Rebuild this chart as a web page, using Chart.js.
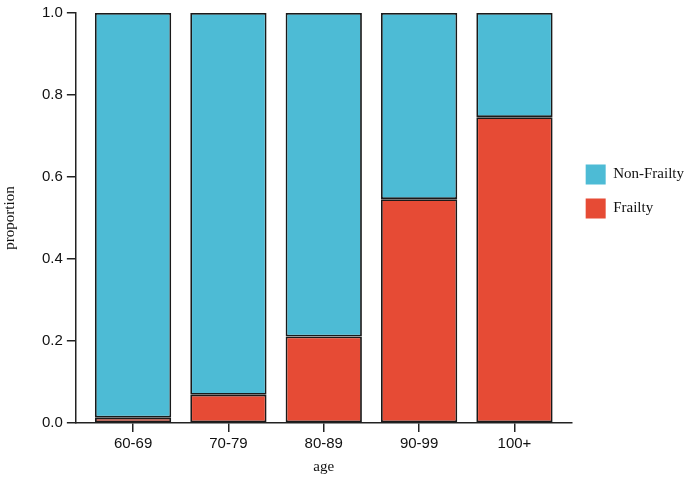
<!DOCTYPE html>
<html>
<head>
<meta charset="utf-8">
<script src="https://cdn.jsdelivr.net/npm/chart.js@4.4.1/dist/chart.umd.min.js"></script>
<style>
  html, body { margin: 0; padding: 0; background: #fff; }
  #wrap { width: 685px; height: 480px; }
</style>
</head>
<body>
<div id="wrap"><canvas id="myChart"></canvas></div>
<script>
const ageGroups = ["60-69", "70-79", "80-89", "90-99", "100+"];
const frailty = [0.013, 0.069, 0.211, 0.546, 0.746];
const nonFrailty = [0.987, 0.931, 0.789, 0.454, 0.254];
const yTicks = [0, 0.2, 0.4, 0.6, 0.8, 1.0];

const serif = "'Liberation Serif', 'Times New Roman', serif";
const sans = "'Liberation Sans', Arial, sans-serif";

function points(values) {
  return values.map((v, i) => ({ x: i + 1, y: v }));
}

const ctx = document.getElementById("myChart");

// stacked bars, Frailty first so it sits at the bottom
let myChart = new Chart(ctx, {
  type: "bar",
  data: {
    datasets: [
      {
        label: "Frailty",
        data: points(frailty),
        backgroundColor: "#E64B35",
        borderColor: "#1a1a1a",
        borderWidth: 1.8,
        borderSkipped: false,
      },
      {
        label: "Non-Frailty",
        data: points(nonFrailty),
        backgroundColor: "#4DBBD5",
        borderColor: "#1a1a1a",
        borderWidth: 1.8,
        borderSkipped: false,
      },
    ],
  },
  options: {
    responsive: true,
    maintainAspectRatio: false,
    animation: false,
    categoryPercentage: 1,
    barPercentage: 0.8,
    layout: { padding: { top: 12, right: -9, bottom: 4, left: 0 } },
    plugins: {
      tooltip: { enabled: false },
      legend: {
        position: "right",
        align: "start",
        reverse: true,
        title: { display: true, text: "", padding: { top: 124, bottom: 0 } },
        labels: {
          boxWidth: 20,
          boxHeight: 20,
          padding: 14,
          color: "#111",
          font: { family: serif, size: 15 },
          generateLabels: (chart) =>
            Chart.defaults.plugins.legend.labels.generateLabels(chart).map((l) => ({ ...l, lineWidth: 0 })),
        },
      },
    },
    scales: {
      x: {
        type: "linear",
        stacked: true,
        offset: false,
        min: 0.4,
        max: 5.6,
        afterBuildTicks: (scale) => {
          scale.ticks = ageGroups.map((_, i) => ({ value: i + 1 }));
        },
        ticks: {
          color: "#111",
          padding: 3,
          font: { family: sans, size: 15 },
          callback: (v) => ageGroups[v - 1],
        },
        grid: { offset: false, drawOnChartArea: false, tickLength: 9, color: "#222", lineWidth: 1.5 },
        border: { display: true, color: "#222", width: 1.5 },
        title: {
          display: true,
          text: "age",
          color: "#111",
          font: { family: serif, size: 15 },
          padding: { top: 2, bottom: 0 },
        },
      },
      y: {
        stacked: true,
        min: 0,
        max: 1,
        afterBuildTicks: (scale) => {
          scale.ticks = yTicks.map((v) => ({ value: v }));
        },
        ticks: {
          color: "#111",
          padding: 4,
          font: { family: sans, size: 15 },
          callback: (v) => v.toFixed(1),
        },
        grid: { drawOnChartArea: false, tickLength: 9, color: "#222", lineWidth: 1.5 },
        border: { display: true, color: "#222", width: 1.5 },
        title: {
          display: true,
          text: "proportion",
          color: "#111",
          font: { family: serif, size: 15 },
          padding: { top: 1, bottom: 19 },
        },
      },
    },
  },
});
</script>
</body>
</html>
